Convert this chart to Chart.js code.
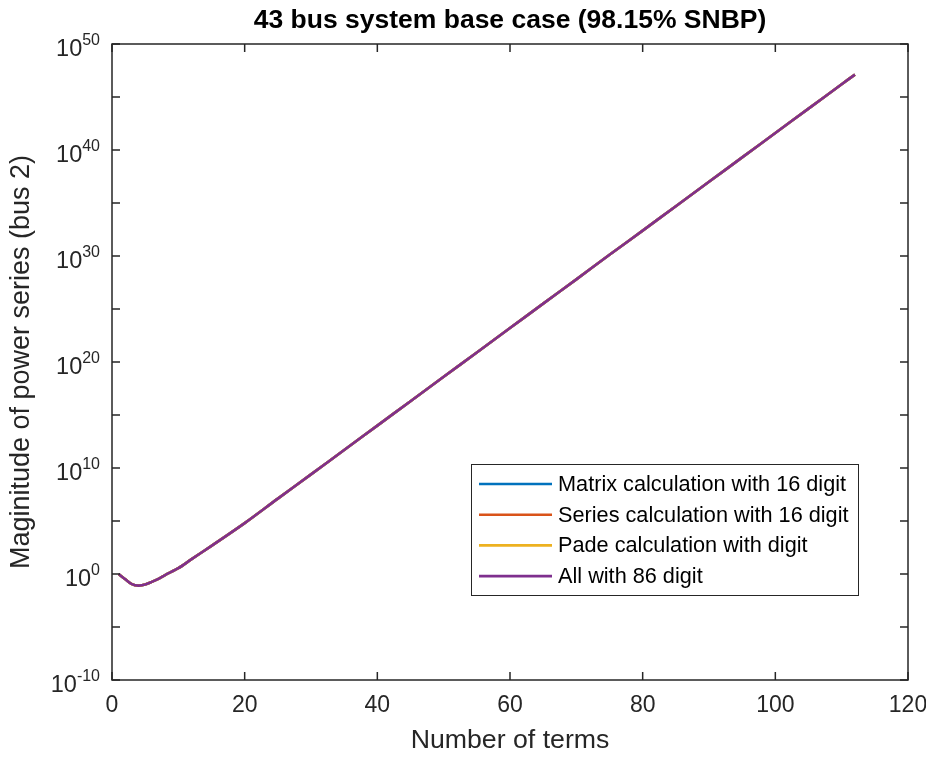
<!DOCTYPE html>
<html>
<head>
<meta charset="utf-8">
<script src="https://cdn.jsdelivr.net/npm/chart.js@4.4.1/dist/chart.umd.min.js"></script>
<style>
  html, body { margin: 0; padding: 0; background: #fff; }
  #wrap { width: 926px; height: 757px; }
</style>
</head>
<body>
<div id="wrap"><canvas id="chart" width="926" height="757"></canvas></div>
<script>
// number of terms vs. magnitude of the power series at bus 2
const terms = [1, 2, 3, 4, 5, 6, 7, 8, 10, 12, 15, 20, 25, 30, 35, 40, 45, 50,
               55, 60, 65, 70, 75, 80, 85, 90, 95, 100, 105, 110, 112];
const magnitude = [1e0, 3.2e-1, 1.1e-1, 8e-2, 1e-1, 1.8e-1, 3.5e-1, 8e-1, 3.5e0, 2.5e1,
                   4.5e2, 6.3e4, 1.3e7, 2.5e9, 5e11, 1e14, 2e16, 4e18, 8e20, 1.6e23,
                   3.2e25, 6.3e27, 1.3e30, 2.5e32, 5e34, 1e37, 2e39, 4e41, 8e43, 1.6e46, 1.3e47];

const seriesNames = ['Matrix calculation with 16 digit', 'Series calculation with 16 digit',
                     'Pade calculation with digit', 'All with 86 digit'];
const seriesColors = ['#0072BD', '#D95319', '#EDB120', '#7E2F8E'];

const xTicks = [0, 20, 40, 60, 80, 100, 120];
const yTicks = [1e-10, 1e0, 1e10, 1e20, 1e30, 1e40, 1e50];
const yMinorTicks = [1e-5, 1e5, 1e15, 1e25, 1e35, 1e45];

const chartTitle = '43 bus system base case (98.15% SNBP)';

const ink = '#262626';
const fontFamily = '"Liberation Sans", Arial, Helvetica, sans-serif';

const points = terms.map((t, i) => ({ x: t, y: magnitude[i] }));

// all four methods give the same curve; the 86 digit one is drawn on top
const datasets = seriesNames.map((name, i) => ({
  label: name,
  data: points,
  borderColor: seriesColors[i],
  backgroundColor: seriesColors[i],
  borderWidth: 2.6,
  pointRadius: 0,
  tension: 0.3,
  fill: false,
  order: seriesNames.length - i
}));

// frame, inward ticks, superscript y labels, title and the legend box
const axesBox = {
  id: 'axesBox',
  afterDatasetsDraw(chart) {
    const { ctx, chartArea: a, scales: { x, y } } = chart;
    ctx.save();
    ctx.strokeStyle = ink;
    ctx.lineWidth = 1.5;
    ctx.strokeRect(a.left, a.top, a.right - a.left, a.bottom - a.top);

    const tl = 8;
    ctx.beginPath();
    xTicks.forEach(v => {
      const px = x.getPixelForValue(v);
      ctx.moveTo(px, a.bottom); ctx.lineTo(px, a.bottom - tl);
      ctx.moveTo(px, a.top); ctx.lineTo(px, a.top + tl);
    });
    yTicks.concat(yMinorTicks).forEach(v => {
      const py = y.getPixelForValue(v);
      ctx.moveTo(a.left, py); ctx.lineTo(a.left + tl, py);
      ctx.moveTo(a.right, py); ctx.lineTo(a.right - tl, py);
    });
    ctx.stroke();

    // y labels as 10 with a raised exponent
    ctx.fillStyle = ink;
    ctx.textAlign = 'right';
    ctx.textBaseline = 'alphabetic';
    const labelRight = a.left - 12;
    yTicks.forEach(v => {
      const py = y.getPixelForValue(v);
      const exp = String(Math.round(Math.log10(v)));
      ctx.font = '16px ' + fontFamily;
      const ew = ctx.measureText(exp).width;
      ctx.fillText(exp, labelRight, py + 1);
      ctx.font = '23.5px ' + fontFamily;
      ctx.fillText('10', labelRight - ew, py + 12);
    });

    // title over the plot box
    ctx.fillStyle = '#000';
    ctx.textAlign = 'center';
    ctx.textBaseline = 'middle';
    ctx.font = 'bold 26.5px ' + fontFamily;
    ctx.fillText(chartTitle, (a.left + a.right) / 2, 21);

    // legend
    const lx = 471, ly = 464, lw = 387, lh = 131;
    ctx.fillStyle = '#fff';
    ctx.fillRect(lx, ly, lw, lh);
    ctx.lineWidth = 1;
    ctx.strokeStyle = ink;
    ctx.strokeRect(lx + 0.5, ly + 0.5, lw, lh);
    ctx.font = '21.7px ' + fontFamily;
    ctx.textAlign = 'left';
    chart.data.datasets.forEach((ds, i) => {
      const ry = ly + 20 + i * 30.7;
      ctx.strokeStyle = ds.borderColor;
      ctx.lineWidth = 2.6;
      ctx.beginPath();
      ctx.moveTo(lx + 8, ry);
      ctx.lineTo(lx + 81, ry);
      ctx.stroke();
      ctx.fillStyle = '#000';
      ctx.fillText(ds.label, lx + 87, ry + 1);
    });
    ctx.restore();
  }
};

new Chart(document.getElementById('chart'), {
  type: 'line',
  data: { datasets: datasets },
  options: {
    responsive: false,
    animation: false,
    layout: { padding: { left: 0, right: 18, top: 44, bottom: 0 } },
    plugins: {
      legend: { display: false },
      tooltip: { enabled: false },
      title: { display: false }
    },
    scales: {
      x: {
        type: 'linear',
        min: 0,
        max: 120,
        afterBuildTicks: s => { s.ticks = xTicks.map(v => ({ value: v })); },
        afterFit: s => { s.height = 77; s.paddingLeft = 0; s.paddingRight = 0; },
        grid: { display: false, drawTicks: false },
        border: { display: false },
        ticks: {
          color: ink,
          font: { family: fontFamily, size: 23 },
          padding: 12,
          maxRotation: 0
        },
        title: {
          display: true,
          text: 'Number of terms',
          color: ink,
          font: { family: fontFamily, size: 26.7 },
          padding: { top: 0, bottom: 0 }
        }
      },
      y: {
        type: 'logarithmic',
        min: 1e-10,
        max: 1e50,
        afterBuildTicks: s => { s.ticks = yTicks.map(v => ({ value: v })); },
        afterFit: s => { s.width = 112; s.paddingTop = 0; s.paddingBottom = 0; },
        grid: { display: false, drawTicks: false },
        border: { display: false },
        ticks: { display: false },
        title: {
          display: true,
          text: 'Maginitude of power series (bus 2)',
          color: ink,
          font: { family: fontFamily, size: 27 },
          padding: { top: 5, bottom: 0 }
        }
      }
    }
  },
  plugins: [axesBox]
});
</script>
</body>
</html>
